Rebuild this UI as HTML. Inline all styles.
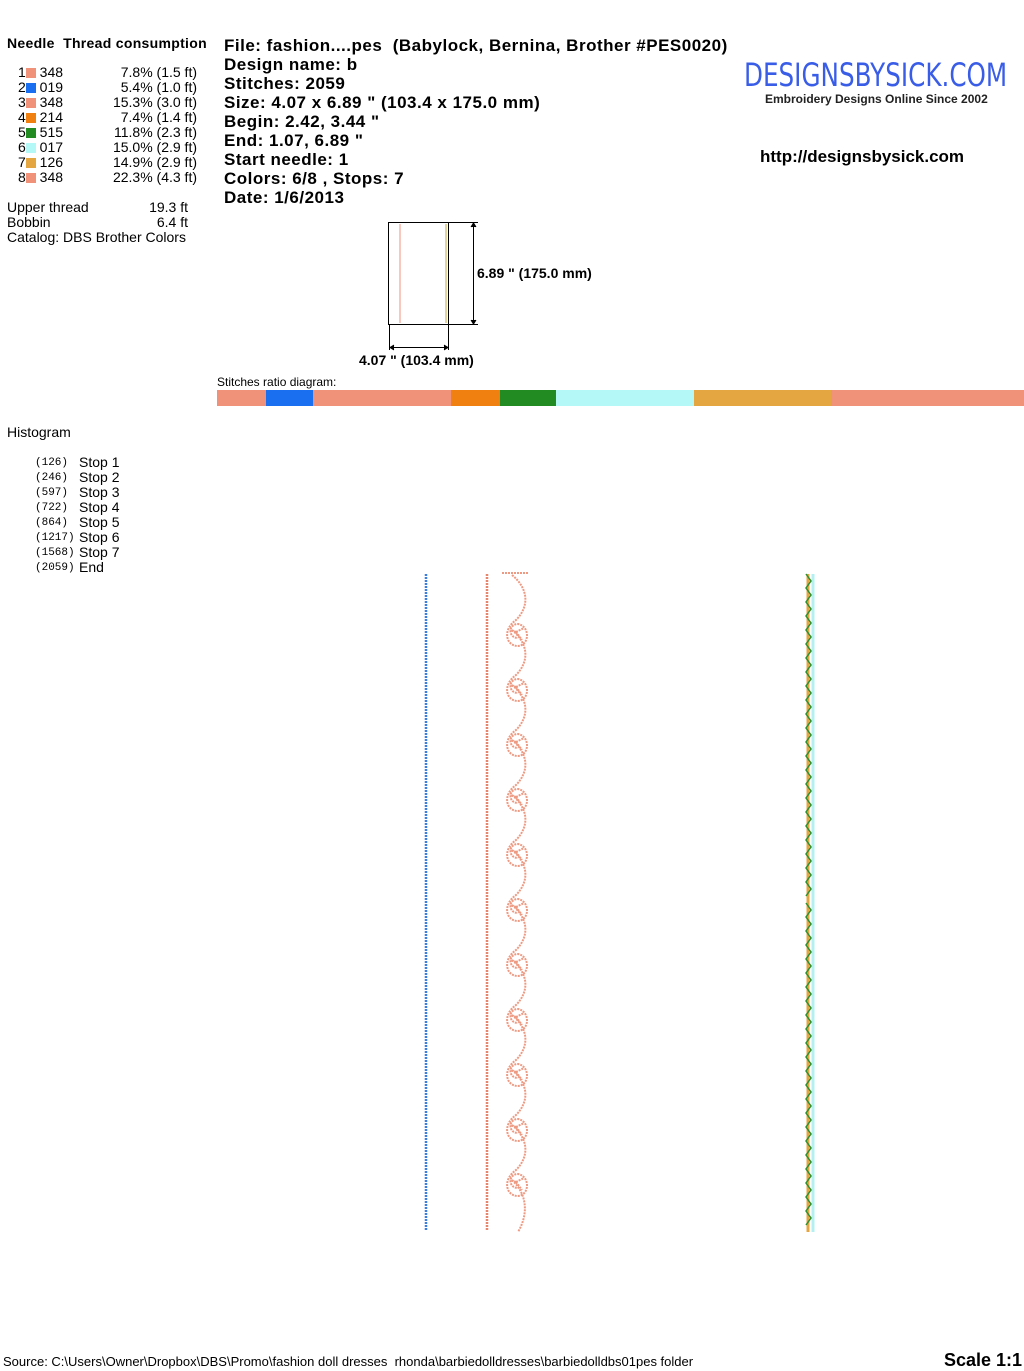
<!DOCTYPE html>
<html><head><meta charset="utf-8"><style>
body{margin:0;width:1024px;height:1370px;background:#fff;position:relative;font-family:"Liberation Sans",Arial,sans-serif;color:#000;overflow:hidden}
.a{position:absolute;white-space:pre}
.s{font-size:14px;line-height:15px}
.b{font-weight:bold;font-size:17px;line-height:19px;letter-spacing:0.5px}
.m{font-family:"Liberation Mono",monospace;font-size:11px;line-height:15px}
.sw{display:inline-block;width:10px;height:10px;vertical-align:-1px}
</style></head><body>
<div class="a" style="left:7px;top:35px;font-size:14px;font-weight:bold;letter-spacing:0.3px">Needle  Thread consumption</div>
<div class="a s" style="left:18px;top:65px">1<span class="sw" style="background:#f0917a"></span> 348<br>2<span class="sw" style="background:#1a6ff0"></span> 019<br>3<span class="sw" style="background:#f0917a"></span> 348<br>4<span class="sw" style="background:#f08010"></span> 214<br>5<span class="sw" style="background:#228b22"></span> 515<br>6<span class="sw" style="background:#b5f8f8"></span> 017<br>7<span class="sw" style="background:#e3a640"></span> 126<br>8<span class="sw" style="background:#f0917a"></span> 348</div>
<div class="a s" style="left:90px;top:65px;width:107px;text-align:right">7.8% (1.5 ft)<br>5.4% (1.0 ft)<br>15.3% (3.0 ft)<br>7.4% (1.4 ft)<br>11.8% (2.3 ft)<br>15.0% (2.9 ft)<br>14.9% (2.9 ft)<br>22.3% (4.3 ft)</div>
<div class="a s" style="left:7px;top:200px">Upper thread<br>Bobbin<br>Catalog: DBS Brother Colors</div>
<div class="a s" style="left:130px;top:200px;width:58px;text-align:right">19.3 ft<br>6.4 ft</div>
<div class="a b" style="left:224px;top:36px">File: fashion....pes  (Babylock, Bernina, Brother #PES0020)
Design name: b
Stitches: 2059
Size: 4.07 x 6.89 " (103.4 x 175.0 mm)
Begin: 2.42, 3.44 "
End: 1.07, 6.89 "
Start needle: 1
Colors: 6/8 , Stops: 7
Date: 1/6/2013</div>
<div class="a" style="left:744px;top:56px;font-size:32px;color:#3a5de8;font-family:'DejaVu Sans',sans-serif;transform:scaleX(0.77);transform-origin:left">DESIGNSBYSICK.COM</div>
<div class="a" style="left:765px;top:92px;font-size:12px;font-weight:bold;color:#222">Embroidery Designs Online Since 2002</div>
<div class="a" style="left:760px;top:147px;font-size:17px;font-weight:bold">http://designsbysick.com</div>
<div class="a" style="left:477px;top:265px;font-size:14px;font-weight:bold">6.89 " (175.0 mm)</div>
<div class="a" style="left:359px;top:352px;font-size:14px;font-weight:bold">4.07 " (103.4 mm)</div>
<svg class="a" style="left:0;top:0" width="1024" height="1370">
<rect x="388.5" y="222.5" width="60" height="102" fill="none" stroke="#000"/>
<line x1="400" y1="224" x2="400" y2="323" stroke="#f0917a"/>
<line x1="446" y1="224" x2="446" y2="323" stroke="#c9a83a"/>
<line x1="448" y1="222.5" x2="478" y2="222.5" stroke="#000"/>
<line x1="448" y1="324.5" x2="478" y2="324.5" stroke="#000"/>
<line x1="473.5" y1="224" x2="473.5" y2="323" stroke="#000"/>
<path d="M471 227 L473.5 223 L476 227 M471 320 L473.5 324 L476 320" fill="#000" stroke="#000"/>
<line x1="389.5" y1="324" x2="389.5" y2="350" stroke="#000"/>
<line x1="448.5" y1="324" x2="448.5" y2="350" stroke="#000"/>
<line x1="390" y1="347.5" x2="448" y2="347.5" stroke="#000"/>
<path d="M394 345 L390 347.5 L394 350 M444 345 L448 347.5 L444 350" fill="#000" stroke="#000"/>
<rect x="217" y="390" width="49" height="16" fill="#f0917a"/>
<rect x="266" y="390" width="47" height="16" fill="#1a6ff0"/>
<rect x="313" y="390" width="138" height="16" fill="#f0917a"/>
<rect x="451" y="390" width="49" height="16" fill="#f08010"/>
<rect x="500" y="390" width="56" height="16" fill="#228b22"/>
<rect x="556" y="390" width="138" height="16" fill="#b5f8f8"/>
<rect x="694" y="390" width="137" height="16" fill="#e3a640"/>
<rect x="831" y="390" width="193" height="16" fill="#f0917a"/>
<line x1="426" y1="574" x2="426" y2="1230" stroke="#3a7fe0" stroke-width="2.5" stroke-dasharray="2 1"/>
<line x1="487" y1="574" x2="487" y2="1230" stroke="#e8866c" stroke-width="2.5" stroke-dasharray="2 1"/>
<defs><g id="mo" fill="none" stroke="#ee9a82" stroke-width="2" stroke-dasharray="2 1">
<path d="M512 575 C528 588 530 606 516 620 C502 630 506 646 518 646 C530 645 530 626 518 624 C508 624 508 638 518 638"/>
<path d="M516 632 L524 628 M516 632 L522 640 M516 632 L510 630"/></g></defs>
<line x1="502" y1="573" x2="528" y2="573" stroke="#ee9a82" stroke-width="2" stroke-dasharray="2 1"/>
<use href="#mo"/><use href="#mo" y="55"/><use href="#mo" y="110"/><use href="#mo" y="165"/><use href="#mo" y="220"/><use href="#mo" y="275"/><use href="#mo" y="330"/><use href="#mo" y="385"/><use href="#mo" y="440"/><use href="#mo" y="495"/><use href="#mo" y="550"/>
<path d="M512 1180 C528 1195 528 1215 518 1232" fill="none" stroke="#ee9a82" stroke-width="2" stroke-dasharray="2 1"/>
<line x1="813" y1="574" x2="813" y2="1232" stroke="#b5f0f0" stroke-width="3"/>
<line x1="808" y1="574" x2="808" y2="1232" stroke="#e3a640" stroke-width="3"/>
<path id="zp" d="M806 574 l5 7 l-5 7 l5 7 l-5 7 l5 7 l-5 7 l5 7 l-5 7 l5 7 l-5 7 l5 7 l-5 7 l5 7 l-5 7 l5 7 l-5 7 l5 7 l-5 7 l5 7 l-5 7 l5 7 l-5 7 l5 7 l-5 7 l5 7 l-5 7 l5 7 l-5 7 l5 7 l-5 7 l5 7 l-5 7 l5 7 l-5 7 l5 7 l-5 7 l5 7 l-5 7 l5 7 l-5 7 l5 7 l-5 7 l5 7 l-5 7 l5 7 l-5 7" fill="none" stroke="#2f8f2f" stroke-width="1.5"/>
<use href="#zp" y="329"/>
</svg>
<div class="a" style="left:217px;top:375px;font-size:12px">Stitches ratio diagram:</div>
<div class="a s" style="left:7px;top:425px">Histogram</div>
<div class="a m" style="left:35px;top:456px">(126)
(246)
(597)
(722)
(864)
(1217)
(1568)
(2059)</div>
<div class="a s" style="left:79px;top:455px">Stop 1
Stop 2
Stop 3
Stop 4
Stop 5
Stop 6
Stop 7
End</div>
<div class="a" style="left:3px;top:1354px;font-size:13px">Source: C:\Users\Owner\Dropbox\DBS\Promo\fashion doll dresses  rhonda\barbiedolldresses\barbiedolldbs01pes folder</div>
<div class="a" style="left:944px;top:1350px;font-size:18px;font-weight:bold">Scale 1:1</div>
</body></html>
